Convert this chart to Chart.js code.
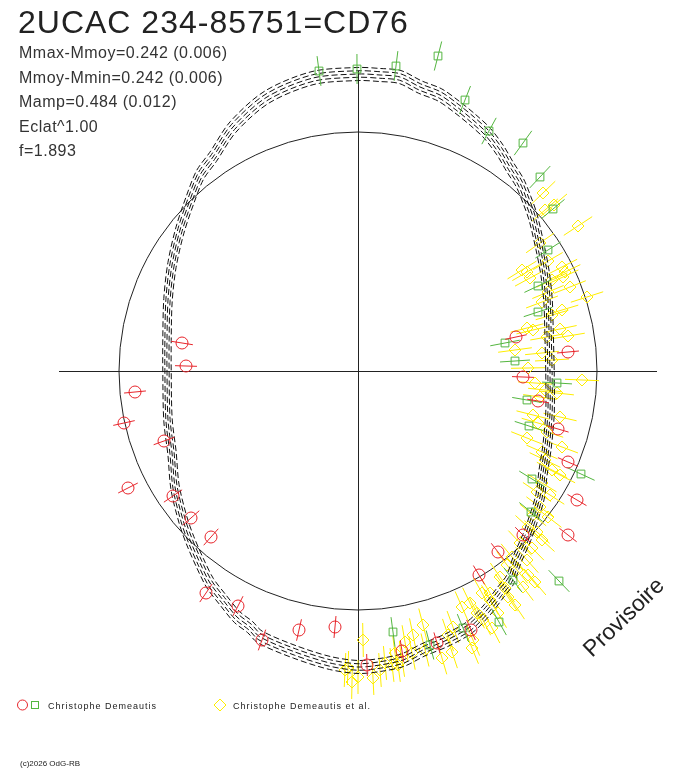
<!DOCTYPE html>
<html>
<head>
<meta charset="utf-8">
<title>2UCAC 234-85751=CD76</title>
<script src="https://cdn.jsdelivr.net/npm/chart.js@4.4.1/dist/chart.umd.min.js"></script>
<style>
  body { margin: 0; background: #fff; }
  canvas { display: block; }
</style>
</head>
<body>
<canvas id="chart" width="688" height="768"></canvas>
<script>
// Polar light curve in plot units (centre = 0,0)
const titleText = '2UCAC 234-85751=CD76';
const statLines = ['Mmax-Mmoy=0.242 (0.006)', 'Mmoy-Mmin=0.242 (0.006)', 'Mamp=0.484 (0.012)', 'Eclat^1.00', 'f=1.893'];
const observers = ['Christophe Demeautis', 'Christophe Demeautis et al.'];
const refRadius = 239;
const axisHalfX = 299;
const axisHalfY = 300;

// fitted model (centre of the dashed band)
const modelX = [192, 191, 190, 187, 182, 175, 169, 162, 152, 142, 129, 115, 99, 82, 62, 42, 22, 0, -45, -91, -125, -145, -158, -168, -178, -186, -190, -191, -191, -190, -186, -183, -175, -168, -158, -148, -135, -121, -108, -98, -63, -28, 0, 22, 45, 65, 89, 112, 129, 142, 152, 159, 169, 175, 182, 185, 189, 192, 192];
const modelY = [0, 41, 71, 98, 124, 154, 171, 188, 204, 221, 238, 251, 264, 276, 284, 294, 296, 297, 293, 274, 244, 214, 196, 171, 141, 106, 71, 31, 0, -49, -82, -116, -149, -169, -192, -212, -229, -246, -256, -266, -281, -292, -296, -294, -289, -279, -269, -256, -239, -222, -209, -189, -166, -149, -126, -102, -76, -42, 0];
const bandScale = [0.978, 0.989, 1, 1.011, 1.022];

// Christophe Demeautis (circles)
const redX = [-176, -172, -223, -234, -194, -230, -185, -167, -147, -152, -120, -96, -59, -23, 9, 44, 79, 113, 121, 140, 165, 210, 219, 210, 200, 180, 165, 158, 210];
const redY = [28, 5, -21, -52, -70, -117, -125, -147, -166, -222, -235, -269, -259, -256, -294, -280, -272, -259, -204, -181, -164, -164, -129, -91, -58, -30, -6, 34, 19];
const redErr = 11;

// Christophe Demeautis (squares)
const greenX = [-39, -1, 38, 80, 107, 131, 165, 182, 195, 190, 180, 180, 147, 157, 199, 169, 171, 174, 223, 173, 155, 201, 141, 105, 72, 35];
const greenY = [300, 302, 305, 315, 271, 240, 228, 194, 162, 121, 85, 59, 28, 10, -12, -29, -55, -108, -103, -141, -209, -210, -251, -257, -274, -261];
const greenErr = 15;

// Christophe Demeautis et al. (diamonds)
const yellowX = [185, 196, 187, 220, 182, 190, 164, 169, 204, 207, 172, 194, 205, 212, 190, 229, 184, 204, 194, 169, 175, 202, 210, 189, 157, 184, 194, 170, 224, 177, 187, 199, 182,
  175, 202, 180, 189, 204, 169, 184, 187, 194, 202, 184, 179, 192, 182, 175, 190, 170, 179, 184, 162, 174, 169, 154, 149, 159, 170, 177, 142, 147, 165, 132,
  124, 132, 112, 150, 157, 140, 134, 104, 119, 125, 95, 90, 115, 114, 94, 84, 65, 55, 67, 47, 54, 37, 27, 34, 22, 15, 5, -10, -13, -6, 0, 40, 44];
const yellowY = [178, 166, 161, 145, 128, 110, 101, 99, 104, 99, 93, 91, 94, 84, 79, 74, 69, 61, 56, 43, 41, 42, 35, 34, 21, 18, 11, 3, -9, -12, -19, -22, -26,
  -44, -46, -52, -61, -76, -67, -81, -89, -99, -104, -112, -121, -124, -136, -144, -146, -156, -161, -169, -172, -177, -189, -186, -194, -199, -204, -211, -206, -217, -216, -222,
  -222, -229, -232, -226, -234, -242, -257, -236, -242, -249, -256, -264, -269, -277, -281, -287, -254, -264, -279, -271, -282, -282, -292, -294, -299, -307, -269, -297, -299, -311, -306, -294, -289];
const yellowErr = 17;

const red = 'rgb(232,38,44)';
const green = 'rgb(84,182,64)';
const yellow = 'rgb(255,238,0)';
const font = "'Liberation Sans', Arial, sans-serif";

function toPoints(xs, ys, k) {
  k = k || 1;
  return xs.map((x, i) => ({ x: x * k, y: ys[i] * k }));
}

// radial error bar through each mark, drawn just under its dataset
const radialErrors = {
  id: 'radialErrors',
  beforeDatasetDraw(chart, args) {
    const ds = chart.data.datasets[args.index];
    if (!ds.errorBar) return;
    const { ctx, scales: { x, y } } = chart;
    const cx = x.getPixelForValue(0), cy = y.getPixelForValue(0);
    const e = x.getPixelForValue(ds.errorBar) - cx;
    ctx.save();
    ctx.strokeStyle = ds.borderColor;
    ctx.lineWidth = 1;
    ctx.beginPath();
    args.meta.data.forEach(pt => {
      const dx = pt.x - cx, dy = pt.y - cy;
      const len = Math.hypot(dx, dy) || 1;
      ctx.moveTo(pt.x - dx / len * e, pt.y - dy / len * e);
      ctx.lineTo(pt.x + dx / len * e, pt.y + dy / len * e);
    });
    ctx.stroke();
    ctx.restore();
  }
};

// axes cross and mean-magnitude circle
const polarFrame = {
  id: 'polarFrame',
  beforeDraw(chart) {
    const ctx = chart.ctx;
    ctx.save();
    ctx.fillStyle = '#fff';
    ctx.fillRect(0, 0, chart.width, chart.height);
    ctx.restore();
  },
  beforeDatasetsDraw(chart) {
    const { ctx, scales: { x, y } } = chart;
    const cx = x.getPixelForValue(0), cy = y.getPixelForValue(0);
    const r = x.getPixelForValue(refRadius) - cx;
    ctx.save();
    ctx.strokeStyle = '#222';
    ctx.lineWidth = 1;
    ctx.beginPath();
    ctx.moveTo(x.getPixelForValue(-axisHalfX), cy + 0.5);
    ctx.lineTo(x.getPixelForValue(axisHalfX), cy + 0.5);
    ctx.moveTo(cx + 0.5, y.getPixelForValue(axisHalfY));
    ctx.lineTo(cx + 0.5, y.getPixelForValue(-axisHalfY));
    ctx.stroke();
    ctx.beginPath();
    ctx.arc(cx, cy, r, 0, Math.PI * 2);
    ctx.stroke();
    ctx.restore();
  },
  afterDraw(chart) {
    const ctx = chart.ctx;
    ctx.save();
    ctx.fillStyle = '#222';
    ctx.textBaseline = 'alphabetic';
    ctx.font = '32px ' + font;
    ctx.letterSpacing = '1px';
    ctx.fillText(titleText, 18, 33);

    ctx.fillStyle = '#333';
    ctx.font = '16px ' + font;
    ctx.letterSpacing = '0.5px';
    statLines.forEach((s, i) => ctx.fillText(s, 19, 58 + i * 24.6));

    // legend
    ctx.lineWidth = 1;
    ctx.strokeStyle = red;
    ctx.beginPath();
    ctx.arc(22.5, 705, 5, 0, Math.PI * 2);
    ctx.stroke();
    ctx.strokeStyle = green;
    ctx.strokeRect(31.5, 701.5, 7, 7);
    ctx.strokeStyle = yellow;
    ctx.beginPath();
    ctx.moveTo(214, 705); ctx.lineTo(220, 699); ctx.lineTo(226, 705); ctx.lineTo(220, 711); ctx.closePath();
    ctx.stroke();
    ctx.fillStyle = '#222';
    ctx.font = '9px ' + font;
    ctx.letterSpacing = '1px';
    ctx.fillText(observers[0], 48, 709);
    ctx.fillText(observers[1], 233, 709);

    ctx.font = '8px ' + font;
    ctx.letterSpacing = '0px';
    ctx.fillText('(c)2026 OdG-RB', 20, 766);

    ctx.translate(592, 658);
    ctx.rotate(-44 * Math.PI / 180);
    ctx.font = '23px ' + font;
    ctx.fillStyle = '#222';
    ctx.fillText('Provisoire', 0, 0);
    ctx.restore();
  }
};

const bandSets = bandScale.map((k, i) => ({
  data: toPoints(modelX, modelY, k),
  showLine: true,
  borderColor: '#111',
  borderWidth: 1,
  borderDash: [6, 3],
  borderDashOffset: i * 2,
  pointRadius: 0,
  tension: 0.3,
  fill: false,
  clip: false,
  order: 2
}));

new Chart(document.getElementById('chart'), {
  type: 'scatter',
  data: {
    datasets: [
      {
        label: observers[0],
        data: toPoints(redX, redY),
        pointStyle: 'circle',
        pointRadius: 6,
        borderColor: red,
        backgroundColor: 'rgba(0,0,0,0)',
        borderWidth: 1,
        errorBar: redErr,
        clip: false,
        order: 0
      },
      {
        label: observers[0],
        data: toPoints(greenX, greenY),
        pointStyle: 'rect',
        pointRadius: 5.5,
        borderColor: green,
        backgroundColor: 'rgba(0,0,0,0)',
        borderWidth: 1,
        errorBar: greenErr,
        clip: false,
        order: 1
      },
      ...bandSets,
      {
        label: observers[1],
        data: toPoints(yellowX, yellowY),
        pointStyle: 'rectRot',
        pointRadius: 6,
        borderColor: yellow,
        backgroundColor: 'rgba(0,0,0,0)',
        borderWidth: 1,
        errorBar: yellowErr,
        clip: false,
        order: 3
      }
    ]
  },
  options: {
    responsive: false,
    devicePixelRatio: 1,
    animation: false,
    layout: { padding: { left: 59, right: 31, top: 51, bottom: 77 } },
    plugins: { legend: { display: false }, tooltip: { enabled: false } },
    scales: {
      x: { type: 'linear', min: -299, max: 299, display: false },
      y: { type: 'linear', min: -320, max: 320, display: false }
    }
  },
  plugins: [polarFrame, radialErrors]
});
</script>
</body>
</html>
